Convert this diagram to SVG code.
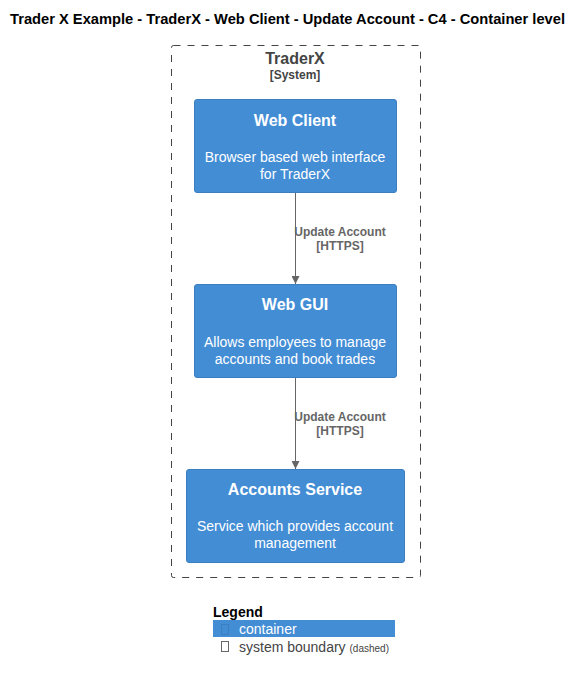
<svg xmlns="http://www.w3.org/2000/svg" width="582" height="681" viewBox="0 0 582 681">
<defs>
<style>
text{font-family:"Liberation Sans",Arial,sans-serif}
.title{font-size:14px;font-weight:bold;fill:#000}
.box{fill:#438DD5;stroke:#3C7FC0;stroke-width:1}
.bt{font-size:16px;font-weight:bold;fill:#fff;text-anchor:middle}
.bd{font-size:14px;fill:#fff;text-anchor:middle}
.lbl{font-size:12px;font-weight:bold;fill:#666;text-anchor:middle}
.conn{stroke:#666;stroke-width:1;fill:none}
</style>
<marker id="arr" viewBox="0 0 10 10" refX="10" refY="5" markerWidth="8" markerHeight="8" markerUnits="userSpaceOnUse" orient="auto">
<path d="M0,0 L10,5 L0,10 Z" fill="#666"/>
</marker>
</defs>
<rect width="582" height="681" fill="#fff"/>
<text class="title" x="10" y="24" textLength="555" lengthAdjust="spacingAndGlyphs">Trader X Example - TraderX - Web Client - Update Account - C4 - Container level</text>
<g id="boundary">
<rect x="171.5" y="45.5" width="249" height="532" rx="2" fill="none" stroke="#444" stroke-width="1" stroke-dasharray="7,7"/>
<text x="295" y="64" text-anchor="middle" font-size="16" font-weight="bold" fill="#444">TraderX</text>
<text x="295" y="79" text-anchor="middle" font-size="12" font-weight="bold" fill="#444">[System]</text>
</g>
<g id="web-client">
<rect class="box" x="194.5" y="99.5" width="202" height="93" rx="2.5"/>
<text class="bt" x="295" y="126">Web Client</text>
<text class="bd" x="295" y="162">Browser based web interface</text>
<text class="bd" x="295" y="179">for TraderX</text>
</g>
<g id="web-gui">
<rect class="box" x="194.5" y="284.5" width="202" height="93" rx="2.5"/>
<text class="bt" x="295" y="310">Web GUI</text>
<text class="bd" x="295" y="347">Allows employees to manage</text>
<text class="bd" x="295" y="364">accounts and book trades</text>
</g>
<g id="accounts-service">
<rect class="box" x="186.5" y="469.5" width="218" height="93" rx="2.5"/>
<text class="bt" x="295" y="495">Accounts Service</text>
<text class="bd" x="295" y="531">Service which provides account</text>
<text class="bd" x="295" y="548">management</text>
</g>
<g id="connectors">
<line class="conn" x1="295.5" y1="193" x2="295.5" y2="284" marker-end="url(#arr)"/>
<text class="lbl" x="340" y="236">Update Account</text>
<text class="lbl" x="340" y="250">[HTTPS]</text>
<line class="conn" x1="295.5" y1="378" x2="295.5" y2="469" marker-end="url(#arr)"/>
<text class="lbl" x="340" y="421">Update Account</text>
<text class="lbl" x="340" y="435">[HTTPS]</text>
</g>
<g id="legend">
<text x="213" y="617" font-size="14" font-weight="bold" fill="#000">Legend</text>
<rect x="213" y="620" width="182" height="17" fill="#438DD5"/>
<rect x="221.5" y="624.5" width="7" height="10" fill="none" stroke="#3C7FC0" stroke-width="1"/>
<text x="239" y="634" font-size="14" fill="#fff">container</text>
<rect x="221.5" y="641.5" width="7" height="10" fill="none" stroke="#666" stroke-width="1"/>
<text x="239" y="652" font-size="14" fill="#444">system boundary <tspan font-size="10">(dashed)</tspan></text>
</g>
</svg>
